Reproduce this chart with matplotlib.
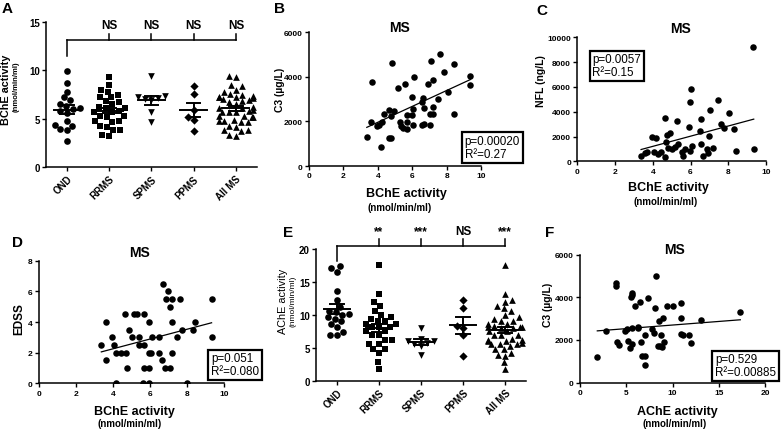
import numpy as np
import matplotlib
matplotlib.use('Agg')
import matplotlib.pyplot as plt
import seaborn as sns
import warnings
warnings.filterwarnings('ignore')

plt.rcParams['font.family'] = ['Liberation Sans', 'DejaVu Sans']

# ---------------- data ----------------
groups = ['OND', 'RRMS', 'SPMS', 'PPMS', 'All MS']
group_markers = ['o', 's', 'v', 'D', '^']

# panel A: BChE activity (nmol/min/ml)
bche_ond = [9.9, 8.7, 7.8, 7.2, 6.9, 6.5, 6.3, 6.1, 6.0, 5.8, 5.6, 4.8, 4.4, 4.3, 3.9, 3.8, 2.7]
bche_rrms = [9.3, 8.5, 8.0, 7.8, 7.5, 7.2, 7.2, 6.8, 6.7, 6.5, 6.2, 6.1, 6.1, 5.8, 5.7, 5.7,
             5.3, 5.3, 5.2, 4.8, 4.8, 4.7, 4.3, 4.2, 3.8, 3.8, 3.3, 3.2]
bche_spms = [9.4, 7.3, 7.2, 7.1, 7.0, 6.9, 5.7, 4.7]
bche_ppms = [8.4, 7.6, 5.9, 5.2, 4.9, 3.7]
bche_sig = ['NS', 'NS', 'NS', 'NS']

# panel E: AChE activity (nmol/min/ml)
ache_ond = [17.4, 17.1, 16.5, 13.6, 12.3, 11.2, 10.6, 10.4, 10.2, 10.0, 9.6, 9.4, 9.0, 8.6,
            8.2, 7.4, 6.9, 6.9]
ache_rrms = [17.5, 13.2, 12.0, 11.4, 10.6, 10.0, 9.6, 9.4, 9.1, 9.1, 8.6, 8.6, 8.1, 8.1, 8.1,
             7.5, 7.5, 6.9, 6.9, 6.2, 6.2, 5.6, 5.6, 4.8, 4.8, 4.2, 2.8, 1.8]
ache_spms = [8.0, 6.4, 6.1, 6.0, 5.8, 5.6, 5.3, 3.9]
ache_ppms = [12.2, 11.0, 8.3, 8.0, 7.0, 3.8]
ache_sig = ['**', '***', 'NS', '***']

# panel B: BChE vs C3
b_bche = [3.36, 3.65, 3.6, 3.98, 4.08, 4.21, 4.25, 4.37, 4.66, 4.76, 4.95, 4.66, 4.76, 4.85,
          5.15, 5.3, 5.34, 5.44, 5.59, 5.67, 5.67, 5.69, 5.96, 6.02, 5.96, 6.08, 6.06, 6.56,
          6.6, 6.56, 6.7, 6.66, 6.89, 7.05, 7.05, 7.09, 7.22, 7.2, 7.2, 7.48, 7.63, 7.83,
          8.06, 8.41, 8.45, 9.38, 9.38]
b_c3 = [1300, 3750, 1950, 1770, 1830, 850, 1950, 2330, 2500, 2250, 2480, 1270, 1250, 4620,
        3480, 1950, 1800, 1720, 3680, 2280, 1950, 1650, 3100, 2550, 2280, 3980, 1830, 2880,
        3030, 1830, 1880, 2600, 3650, 1830, 2330, 4700, 3830, 2330, 2630, 2980, 5000, 4230,
        3330, 4580, 2330, 4050, 3630]
b_fit_x = [3.36, 9.38]
b_fit_y = [1730, 3870]
b_stats = 'p=0.00020\nR²=0.27'

# panel C: BChE vs NFL
c_bche = [6.03, 5.96, 7.43, 7.04, 8.03, 4.65, 5.27, 6.53, 5.94, 7.59, 7.78, 8.33, 6.51, 6.99,
          4.74, 4.92, 3.95, 4.18, 4.69, 6.56, 5.36, 5.18, 5.01, 6.07, 5.71, 5.57, 5.62, 5.98,
          6.86, 7.18, 6.95, 6.68, 8.42, 4.08, 4.27, 4.65, 3.68, 3.59, 3.38, 4.44, 4.83, 9.32,
          9.35]
c_nfl = [5830, 4760, 4970, 4110, 3900, 3490, 3270, 3390, 2790, 3010, 2660, 2600, 2470, 2060,
         2150, 2260, 1940, 1850, 1580, 1370, 1400, 1130, 990, 1210, 990, 730, 450, 810,
         990, 1050, 650, 450, 850, 770, 590, 370, 770, 650, 450, 730, 1050, 9190,
         1000]
c_fit_x = [3.38, 9.35]
c_fit_y = [950, 3400]
c_stats = 'p=0.0057\nR²=0.15'

# panel D: BChE vs EDSS
d_bche = [3.38, 3.65, 3.61, 3.97, 4.06, 4.19, 4.45, 4.73, 4.19, 4.68, 4.77, 4.87, 5.04, 5.14,
          5.32, 5.4, 5.4, 5.69, 5.69, 5.69, 5.96, 5.96, 6.08, 5.96, 5.96, 6.14, 5.63, 6.5,
          6.5, 6.63, 6.71, 6.8, 6.98, 6.89, 7.22, 7.07, 7.07, 7.17, 7.22, 7.44, 7.62, 7.76,
          8.03, 8.34, 8.43, 9.33, 9.33]
d_edss = [2.5, 4.0, 1.5, 3.0, 2.5, 2.0, 2.0, 2.0, 0.0, 4.5, 1.0, 3.5, 3.0, 4.5,
          4.5, 3.0, 2.5, 2.5, 4.5, 1.0, 4.0, 2.0, 2.0, 1.0, 0.0, 3.0, 0.0, 3.0,
          2.0, 1.5, 6.5, 1.0, 6.0, 5.5, 5.5, 5.0, 1.0, 4.0, 2.0, 3.0, 5.5, 3.5,
          0.0, 3.5, 4.0, 5.5, 3.0]
d_fit_x = [3.38, 9.33]
d_fit_y = [2.05, 3.95]
d_stats = 'p=0.051\nR²=0.080'

# panel F: AChE vs C3
f_ache = [1.87, 2.77, 3.85, 3.85, 4.03, 4.24, 4.85, 5.21, 5.39, 5.64, 5.47, 5.57, 5.6, 5.57,
          5.93, 6.29, 6.47, 6.58, 6.65, 7.08, 7.01, 7.01, 7.3, 7.73, 8.09, 8.27, 7.98, 8.52,
          8.45, 8.7, 8.88, 9.1, 8.74, 8.99, 9.42, 10.06, 10.9, 10.9, 10.9, 11.15, 11.76,
          11.97, 13.13, 17.33, 6.3, 5.1]
f_c3 = [1210, 2430, 4660, 4540, 1910, 1770, 2430, 1960, 1600, 1800, 3990, 4110, 4200, 2550,
        3600, 2550, 3760, 1880, 1260, 1260, 835, 2240, 3940, 2500, 3475, 4970, 2300, 2870,
        1720, 1720, 1650, 1910, 2240, 3020, 3600, 3600, 3020, 3720, 2270, 2240, 2240,
        1840, 2930, 3290, 2600, 2500]
f_fit_x = [1.87, 17.33]
f_fit_y = [2420, 2940]
f_stats = 'p=0.529\nR²=0.00885'

# ---------------- layout helpers (pixels of the 784x431 figure) ----------------
W, H = 784, 431
fig = plt.figure(figsize=(W / 100, H / 100), dpi=100)


def rect(l, r, t, b):
    return [l / W, 1 - b / H, (r - l) / W, (b - t) / H]


def ftext(x, y, s, **kw):
    fig.text(x / W, 1 - y / H, s, **kw)


def style_axes(ax, tick_size):
    for side in ['top', 'right']:
        ax.spines[side].set_visible(False)
    for side in ['left', 'bottom']:
        ax.spines[side].set_linewidth(1.1)
    ax.tick_params(length=3, width=1.0, labelsize=tick_size, pad=1.5)
    for lab in ax.get_xticklabels() + ax.get_yticklabels():
        lab.set_fontweight('bold')


def strip_panel(ax, values, ylim, yticks, sig, bracket):
    ax.set_xlim(-0.5, 4.5)
    ax.set_ylim(*ylim)
    for name, vals, m in zip(groups, values, group_markers):
        sns.swarmplot(x=[name] * len(vals), y=vals, order=groups, marker=m, color='black',
                      size=4.8 if m != 'D' else 4.2, linewidth=0, ax=ax, zorder=2)
    for i, vals in enumerate(values):
        mean = np.mean(vals)
        sem = np.std(vals, ddof=1) / np.sqrt(len(vals))
        ax.plot([i - 0.32, i + 0.32], [mean, mean], color='black', lw=1.4, zorder=3)
        ax.plot([i - 0.16, i + 0.16], [mean + sem] * 2, color='black', lw=1.4, zorder=3)
        ax.plot([i - 0.16, i + 0.16], [mean - sem] * 2, color='black', lw=1.4, zorder=3)
        ax.plot([i, i], [mean - sem, mean + sem], color='black', lw=1.4, zorder=3)
    ax.set_ylim(*ylim)
    ax.set_xlim(-0.5, 4.5)
    ax.set_yticks(yticks)
    ax.set_xlabel('')
    ax.set_ylabel('')
    ax.set_xticks(range(5))
    ax.set_xticklabels(groups, rotation=45, ha='right', rotation_mode='anchor',
                       fontsize=8.5, fontweight='bold')
    yb, ydrop, ytick, ytxt = bracket
    ax.plot([0, 4], [yb, yb], color='black', lw=1.1, clip_on=False)
    ax.plot([0, 0], [ydrop, yb], color='black', lw=1.1, clip_on=False)
    for i, s in enumerate(sig, start=1):
        ax.plot([i, i], [yb, ytick], color='black', lw=1.1, clip_on=False)
        ax.text(i, ytxt, s, ha='center', va='baseline', fontsize=8.5, fontweight='bold',
                clip_on=False)


def scatter_panel(ax, x, y, fx, fy, xlim, ylim, xticks, yticks):
    ax.scatter(x, y, s=22, color='black', linewidths=0, zorder=2)
    ax.plot(fx, fy, color='black', lw=0.9, zorder=3)
    ax.set_xlim(*xlim)
    ax.set_ylim(*ylim)
    ax.set_xticks(xticks)
    ax.set_yticks(yticks)


def stat_box(ax, fx, fy, s):
    ax.text(fx, fy, s, transform=ax.transAxes, ha='left', va='bottom', fontsize=8.4,
            linespacing=1.08, clip_on=False, zorder=5,
            bbox=dict(boxstyle='square,pad=0.24', fc='white', ec='black', lw=1.6))


# ---------------- A ----------------
axA = fig.add_axes(rect(46, 257, 22.7, 168.3))
strip_panel(axA, [bche_ond, bche_rrms, bche_spms, bche_ppms,
                  bche_rrms + bche_spms + bche_ppms],
            (0, 15), [0, 5, 10, 15], bche_sig, (13.1, 11.5, 13.75, 14.3))
style_axes(axA, 7)
ftext(6, 90, 'BChE activity', rotation=90, ha='center', va='center', fontsize=7.8,
      fontweight='bold')
ftext(16, 87, '(nmol/min/ml)', rotation=90, ha='center', va='center', fontsize=5.5,
      fontweight='bold')

# ---------------- E ----------------
axE = fig.add_axes(rect(316, 526, 250, 381.7))
strip_panel(axE, [ache_ond, ache_rrms, ache_spms, ache_ppms,
                  ache_rrms + ache_spms + ache_ppms],
            (0, 20), [0, 5, 10, 15, 20], ache_sig, (20.4, 18.2, 21.5, 22.3))
style_axes(axE, 7)
ftext(283, 301, 'AChE activity', rotation=90, ha='center', va='center', fontsize=7.8)
ftext(293, 301, '(nmol/min/ml)', rotation=90, ha='center', va='center', fontsize=6)

# ---------------- B ----------------
axB = fig.add_axes(rect(309, 481, 33, 167))
scatter_panel(axB, b_bche, b_c3, b_fit_x, b_fit_y, (0, 10), (0, 6000),
              range(0, 11, 2), range(0, 6001, 2000))
style_axes(axB, 6)
stat_box(axB, 0.905, 0.045, b_stats)
axB.text(0.525, 1.01, 'MS', transform=axB.transAxes, ha='center', va='baseline',
         fontsize=10, fontweight='bold')
ftext(280, 90, 'C3 (µg/L)', rotation=90, ha='center', va='center', fontsize=7.5,
      fontweight='bold')
ftext(406.7, 194.3, 'BChE activity', ha='center', va='center', fontsize=9, fontweight='bold')
ftext(399.7, 208.3, '(nmol/min/ml)', ha='center', va='center', fontsize=7, fontweight='bold')

# ---------------- C ----------------
axC = fig.add_axes(rect(577.3, 766, 38.3, 162.3))
scatter_panel(axC, c_bche, c_nfl, c_fit_x, c_fit_y, (0, 10), (0, 10000),
              range(0, 11, 2), range(0, 10001, 2000))
style_axes(axC, 6)
stat_box(axC, 0.08, 0.67, c_stats)
axC.text(0.548, 1.04, 'MS', transform=axC.transAxes, ha='center', va='baseline',
         fontsize=10, fontweight='bold')
ftext(541.3, 81, 'NFL (ng/L)', rotation=90, ha='center', va='center', fontsize=7.5,
      fontweight='bold')
ftext(668.3, 188.3, 'BChE activity', ha='center', va='center', fontsize=9, fontweight='bold')
ftext(665.7, 201.7, '(nmol/min/ml)', ha='center', va='center', fontsize=7, fontweight='bold')

# ---------------- D ----------------
axD = fig.add_axes(rect(38.7, 224, 261.7, 384.3))
scatter_panel(axD, d_bche, d_edss, d_fit_x, d_fit_y, (0, 10), (0, 8),
              range(0, 11, 2), range(0, 9, 2))
style_axes(axD, 6)
stat_box(axD, 0.93, 0.05, d_stats)
axD.text(0.543, 1.04, 'MS', transform=axD.transAxes, ha='center', va='baseline',
         fontsize=10, fontweight='bold')
ftext(19.3, 318.8, 'EDSS', rotation=90, ha='center', va='center', fontsize=8.5,
      fontweight='bold')
ftext(134.7, 411.7, 'BChE activity', ha='center', va='center', fontsize=9, fontweight='bold')
ftext(130, 424.3, '(nmol/min/ml)', ha='center', va='center', fontsize=7, fontweight='bold')

# ---------------- F ----------------
axF = fig.add_axes(rect(580, 765, 255.5, 383.5))
scatter_panel(axF, f_ache, f_c3, f_fit_x, f_fit_y, (0, 20), (0, 6000),
              range(0, 21, 5), range(0, 6001, 2000))
style_axes(axF, 6)
stat_box(axF, 0.73, 0.035, f_stats)
axF.text(0.512, 1.015, 'MS', transform=axF.transAxes, ha='center', va='baseline',
         fontsize=10, fontweight='bold')
ftext(548, 305, 'C3 (µg/L)', rotation=90, ha='center', va='center', fontsize=7.5,
      fontweight='bold')
ftext(677.7, 412.3, 'AChE activity', ha='center', va='center', fontsize=9, fontweight='bold')
ftext(674.7, 424.3, '(nmol/min/ml)', ha='center', va='center', fontsize=7, fontweight='bold')

# panel letters
for letter, (x, y) in zip('ABCDEF', [(2, 13), (274, 13), (536, 15), (12, 247), (283, 237),
                                     (545, 237)]):
    ftext(x, y, letter, ha='left', va='baseline', fontsize=11, fontweight='bold')

fig.savefig('out.png', dpi=100)
